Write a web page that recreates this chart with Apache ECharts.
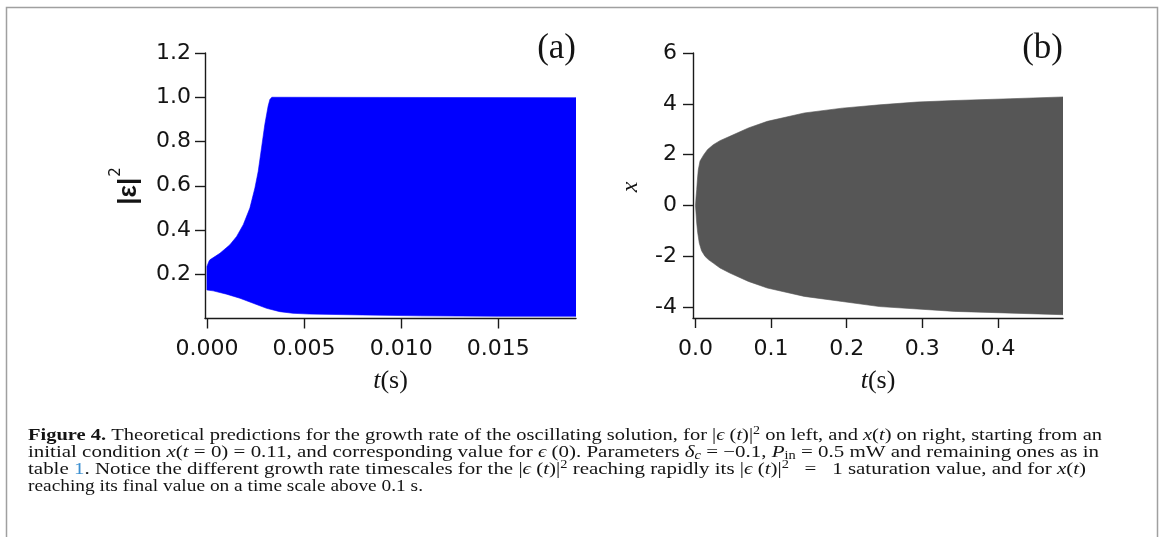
<!DOCTYPE html>
<html>
<head>
<meta charset="utf-8">
<script src="https://cdn.jsdelivr.net/npm/echarts@6/dist/echarts.min.js"></script>
<style>
  html, body { margin: 0; padding: 0; background: #fff; }
  #chart { width: 1165px; height: 537px; }
</style>
</head>
<body>
<div id="chart"></div>
<script>
// (a) envelope of |ε|² versus t (s): upper and lower edges of the fast oscillation
const aUpperT = [0, 0.0001, 0.00015, 0.00067, 0.00118, 0.00153, 0.00187, 0.00221, 0.00247, 0.00264, 0.00281, 0.00298, 0.00315, 0.00324, 0.00334, 0.0190];
const aUpperV = [0.235, 0.258, 0.265, 0.295, 0.333, 0.371, 0.424, 0.499, 0.590, 0.665, 0.771, 0.877, 0.960, 0.990, 1.000, 0.998];
const aLowerT = [0, 0.00032, 0.00101, 0.0017, 0.00238, 0.00307, 0.00375, 0.00443, 0.00529, 0.008, 0.011, 0.015, 0.0190];
const aLowerV = [0.129, 0.125, 0.110, 0.0915, 0.069, 0.046, 0.031, 0.0235, 0.020, 0.016, 0.012, 0.010, 0.010];

// (b) envelope of x versus t (s)
const bUpperT = [0, 0.0008, 0.0016, 0.0025, 0.0037, 0.006, 0.011, 0.016, 0.0235, 0.0324, 0.0454, 0.070, 0.095, 0.144, 0.194, 0.2435, 0.293, 0.343, 0.417, 0.486];
const bUpperV = [0, 0.35, 0.62, 1.00, 1.40, 1.75, 2.00, 2.20, 2.39, 2.55, 2.72, 3.05, 3.31, 3.64, 3.83, 3.96, 4.07, 4.13, 4.20, 4.27];
const bLowerT = [0, 0.0008, 0.0016, 0.0028, 0.005, 0.008, 0.0125, 0.017, 0.0235, 0.0324, 0.0454, 0.070, 0.095, 0.144, 0.194, 0.2435, 0.343, 0.486];
const bLowerV = [0, -0.35, -0.69, -1.05, -1.48, -1.78, -2.00, -2.13, -2.27, -2.46, -2.66, -2.99, -3.25, -3.58, -3.78, -3.98, -4.17, -4.30];

// tick positions
const aXTicks = [0, 0.005, 0.010, 0.015];
const aYTicks = [0.2, 0.4, 0.6, 0.8, 1.0, 1.2];
const bXTicks = [0, 0.1, 0.2, 0.3, 0.4];
const bYTicks = [-4, -2, 0, 2, 4, 6];

// caption lines (rich text)
const captionLines = [
  '{b|Figure 4.} Theoretical predictions for the growth rate of the oscillating solution, for |{i|ϵ} ({i|t})|{sup|2} on left, and {i|x}({i|t}) on right, starting from an',
  'initial condition {i|x}({i|t} = 0) = 0.11, and corresponding value for {i|ϵ} (0). Parameters {i|δ}{sub|c} = −0.1, {i|P}{subr|in} = 0.5 mW and remaining ones as in',
  'table {link|1}. Notice the different growth rate timescales for the |{i|ϵ} ({i|t})|{sup|2} reaching rapidly its |{i|ϵ} ({i|t})|{sup|2}   =   1 saturation value, and for {i|x}({i|t})',
  'reaching its final value on a time scale above 0.1 s.'
];
const captionWidths = [1074, 1071, 1058, 395];

const INK = '#141414';
const SERIF = 'Liberation Serif';
const SANS = 'DejaVu Sans';
const CAP = 17.5;
const CAP_SMALL = 12;

const capBase = { fontFamily: SERIF, fontSize: CAP, fontStyle: 'normal', fontWeight: 'normal', fill: INK };
const capRich = {
  b:    { fontFamily: SERIF, fontSize: CAP, fontWeight: 'bold', fill: INK },
  i:    { fontFamily: SERIF, fontSize: CAP, fontStyle: 'italic', fill: INK },
  sup:  { fontFamily: SERIF, fontSize: CAP_SMALL, fill: INK, verticalAlign: 'top', padding: [0, 0, 9, 0] },
  sub:  { fontFamily: SERIF, fontSize: CAP_SMALL, fontStyle: 'italic', fill: INK, verticalAlign: 'bottom', padding: [7, 0, 0, 0] },
  subr: { fontFamily: SERIF, fontSize: CAP_SMALL, fill: INK, verticalAlign: 'bottom', padding: [7, 0, 0, 0] },
  link: { fontFamily: SERIF, fontSize: CAP, fill: '#3b8fd0' }
};

// natural width of a rich string, used to set each caption line's horizontal scale
const mctx = document.createElement('canvas').getContext('2d');
function richWidth(str, base, rich) {
  let w = 0, last = 0, m;
  const re = /\{([a-zA-Z0-9_]+)\|([^}]*)\}/g;
  const seg = (text, st) => {
    mctx.font = `${st.fontStyle || 'normal'} ${st.fontWeight || 'normal'} ${st.fontSize}px "${st.fontFamily}"`;
    w += mctx.measureText(text).width;
  };
  while ((m = re.exec(str))) {
    if (m.index > last) seg(str.slice(last, m.index), base);
    seg(m[2], Object.assign({}, base, rich[m[1]]));
    last = re.lastIndex;
  }
  if (last < str.length) seg(str.slice(last), base);
  return w;
}

const axisLineStyle = { color: '#1a1a1a', width: 1.4 };

function envelope(idx, upT, upV, loT, loV, color) {
  return {
    type: 'custom',
    xAxisIndex: idx,
    yAxisIndex: idx,
    clip: true,
    silent: true,
    data: [[upT[0], upV[0]]],
    renderItem: (params, api) => {
      const pts = upT.map((t, i) => api.coord([t, upV[i]]));
      for (let i = loT.length - 1; i >= 0; i--) pts.push(api.coord([loT[i], loV[i]]));
      return {
        type: 'polygon',
        shape: { points: pts },
        style: { fill: color, stroke: color, lineWidth: 0.6 }
      };
    }
  };
}

function xAxisCfg(idx, min, max, ticks, digits) {
  return {
    gridIndex: idx, type: 'value', min: min, max: max,
    axisLine: { show: true, onZero: false, lineStyle: axisLineStyle },
    axisTick: { show: true, length: 10, inside: false, customValues: ticks, lineStyle: axisLineStyle },
    axisLabel: {
      customValues: ticks, margin: 20, fontSize: 22, fontFamily: SANS, color: INK,
      formatter: v => v.toFixed(digits)
    },
    splitLine: { show: false },
    name: '{i|t}(s)', nameLocation: 'middle', nameGap: 50,
    nameTextStyle: {
      fontFamily: SERIF, fontSize: 26, color: INK,
      rich: { i: { fontFamily: SERIF, fontSize: 26, fontStyle: 'italic', color: INK } }
    }
  };
}

function yAxisCfg(idx, min, max, ticks, fmt, margin) {
  return {
    gridIndex: idx, type: 'value', min: min, max: max,
    axisLine: { show: true, onZero: false, lineStyle: axisLineStyle },
    axisTick: { show: true, length: 10, inside: false, customValues: ticks, lineStyle: axisLineStyle },
    axisLabel: { customValues: ticks, margin: margin, fontSize: 22, fontFamily: SANS, color: INK, formatter: fmt },
    splitLine: { show: false }
  };
}

const captionGraphics = captionLines.map((line, k) => {
  const natural = richWidth(line, capBase, capRich);
  return {
    type: 'text',
    x: 28, y: 435 + k * 17.2,
    scaleX: captionWidths[k] / natural,
    silent: true,
    style: Object.assign({ text: line, align: 'left', verticalAlign: 'middle', rich: capRich }, capBase)
  };
});

const chart = echarts.init(document.getElementById('chart'), null, { renderer: 'canvas' });
chart.setOption({
  animation: false,
  backgroundColor: '#ffffff',
  grid: [
    { left: 205, top: 53, width: 371, height: 265.5 },
    { left: 693, top: 53, width: 370, height: 265 }
  ],
  xAxis: [
    xAxisCfg(0, -0.0001, 0.019, aXTicks, 3),
    xAxisCfg(1, -0.0033, 0.486, bXTicks, 1)
  ],
  yAxis: [
    yAxisCfg(0, 0, 1.2, aYTicks, v => v.toFixed(1), 14),
    yAxisCfg(1, -4.43, 6, bYTicks, v => String(Math.round(v)), 16)
  ],
  series: [
    envelope(0, aUpperT, aUpperV, aLowerT, aLowerV, '#0000ff'),
    envelope(1, bUpperT, bUpperV, bLowerT, bLowerV, '#565656')
  ],
  graphic: [
    {
      type: 'rect', silent: true,
      shape: { x: 6.5, y: 7.5, width: 1151, height: 580 },
      style: { fill: 'none', stroke: '#a0a0a0', lineWidth: 1.5 }
    },
    {
      type: 'text', x: 576, y: 49, silent: true,
      style: { text: '(a)', align: 'right', verticalAlign: 'middle', fontFamily: SERIF, fontSize: 35, fill: INK }
    },
    {
      type: 'text', x: 1063, y: 49, silent: true,
      style: { text: '(b)', align: 'right', verticalAlign: 'middle', fontFamily: SERIF, fontSize: 35, fill: INK }
    },
    {
      type: 'text', x: 125, y: 186, rotation: Math.PI / 2, silent: true,
      style: {
        text: '{m||ε|}{s|2}', align: 'center', verticalAlign: 'middle',
        rich: {
          m: { fontFamily: 'Liberation Sans', fontSize: 26, fontWeight: 'bold', fill: INK, verticalAlign: 'bottom' },
          s: { fontFamily: SANS, fontSize: 15, fill: INK, verticalAlign: 'top', padding: [0, 0, 18, 1] }
        }
      }
    },
    {
      type: 'text', x: 631, y: 187, rotation: Math.PI / 2, silent: true,
      style: { text: 'x', align: 'center', verticalAlign: 'middle', fontFamily: SERIF, fontSize: 24, fontStyle: 'italic', fill: INK }
    }
  ].concat(captionGraphics)
});
</script>
</body>
</html>
